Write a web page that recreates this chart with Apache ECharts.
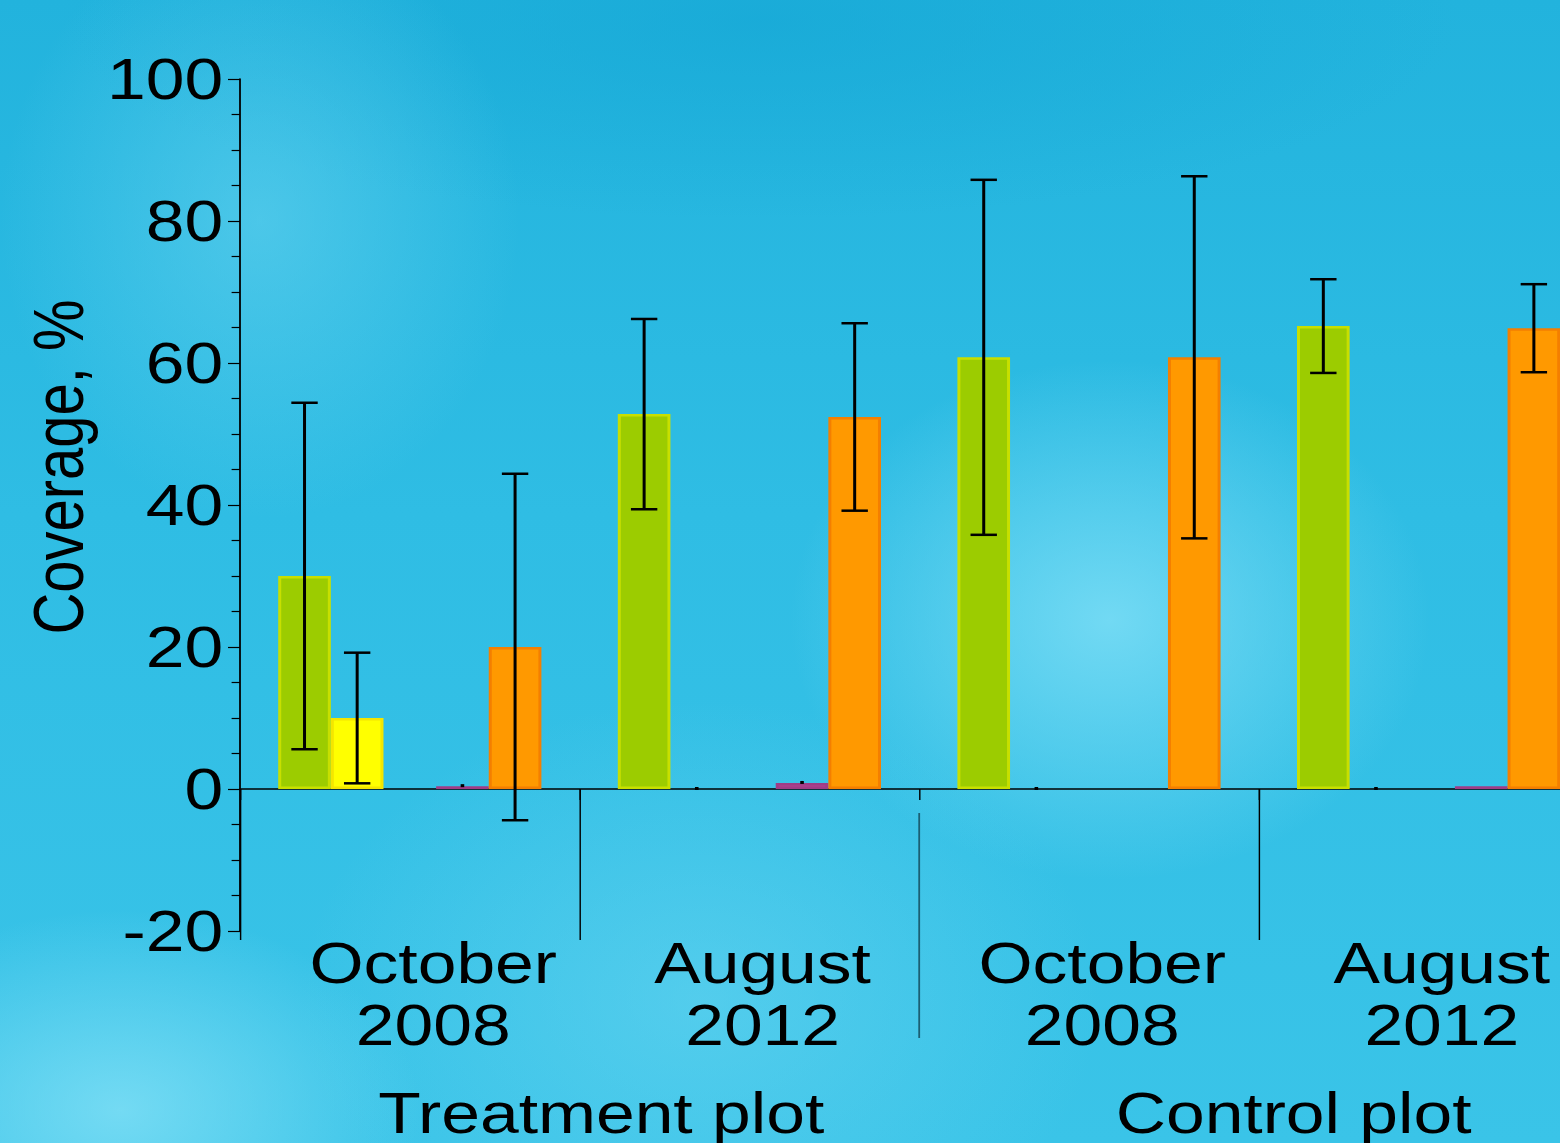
<!DOCTYPE html>
<html>
<head>
<meta charset="utf-8">
<script src="https://cdn.jsdelivr.net/npm/echarts@6/dist/echarts.min.js"></script>
<style>
  html, body {
    margin: 0;
    padding: 0;
    width: 1560px;
    height: 1143px;
    overflow: hidden;
    background:
      radial-gradient(ellipse 320px 260px at 1110px 620px, rgba(125, 222, 246, 0.85), rgba(125, 222, 246, 0)),
      radial-gradient(ellipse 300px 200px at 120px 1110px, rgba(135, 226, 247, 0.75), rgba(135, 226, 247, 0)),
      radial-gradient(ellipse 260px 300px at 260px 220px, rgba(105, 212, 240, 0.55), rgba(105, 212, 240, 0)),
      radial-gradient(ellipse 700px 200px at 760px 20px, rgba(22, 168, 214, 0.7), rgba(22, 168, 214, 0)),
      radial-gradient(ellipse 400px 300px at 700px 1000px, rgba(110, 215, 242, 0.5), rgba(110, 215, 242, 0)),
      linear-gradient(180deg, #22b3dd 0%, #2fbde4 45%, #3ac4e8 100%);
  }
  /* the original figure is stretched sideways, so the chart is drawn narrower and scaled */
  #chart {
    width: 1300px;
    height: 1143px;
    transform: scaleX(1.2);
    transform-origin: 0 0;
  }
</style>
</head>
<body>
<div id="chart"></div>
<script>
  // sampling dates (first-level x categories) and plots (second level)
  const dates = ['October\n2008', 'August\n2012', 'October\n2008', 'August\n2012'];
  const plots = ['Treatment plot', 'Control plot'];

  // mean coverage, % per bar slot in each group
  const greenMean = [30.0, 52.8, 60.8, 65.2];
  const yellowMean = [10.0, 0, 0, 0];
  const emptyMean = [0, 0, 0, 0];
  const purpleMean = [0.4, 0.85, 0, 0.4];
  const orangeMean = [20.0, 52.4, 60.8, 64.9];

  // error (+/-) for each bar
  const greenErr = [24.4, 13.4, 25.0, 6.6];
  const yellowErr = [9.2, 0, 0, 0];
  const purpleErr = [0, 0, null, null];
  const orangeErr = [24.4, 13.2, 25.5, 6.2];

  const yTicks = [-20, 0, 20, 40, 60, 80, 100];

  const FONT = 'Liberation Sans, Arial, sans-serif';
  const GAP = 0.225;    // barCategoryGap
  const SLOTS = 5;

  let chart = echarts.init(document.getElementById('chart'), null, {renderer: 'svg'});

  function barSeries(name, values, fill, border) {
    return {
      name: name,
      type: 'bar',
      xAxisIndex: 0,
      barGap: '0%',
      barCategoryGap: (GAP * 100) + '%',
      // empty bars get no outline
      data: values.map(function (v) {
        return v === 0 ? {value: 0, itemStyle: {borderWidth: 0}} : v;
      }),
      itemStyle: {
        color: fill,
        borderColor: border,
        borderWidth: 2.5
      },
      silent: true
    };
  }

  function errSeries(slot, means, errs) {
    let data = [];
    means.forEach(function (m, i) {
      if (errs[i] !== null) data.push([i, m, errs[i]]);
    });
    return {
      type: 'custom',
      xAxisIndex: 0,
      silent: true,
      z: 5,
      data: data,
      renderItem: function (params, api) {
        let i = api.value(0), m = api.value(1), e = api.value(2);
        let band = api.size([1, 0])[0];
        let barW = band * (1 - GAP) / SLOTS;
        let p = api.coord([i, m]);
        let cx = p[0] + (slot - (SLOTS - 1) / 2) * barW;
        let st = {stroke: '#000', lineWidth: 2.5};
        if (!e) {
          return {type: 'rect', shape: {x: cx - 1.5, y: p[1] - 2, width: 3, height: 3}, style: {fill: '#000'}};
        }
        let top = api.coord([i, m + e])[1];
        let bot = api.coord([i, m - e])[1];
        let cap = 11;
        return {
          type: 'group',
          children: [
            {type: 'line', shape: {x1: cx, y1: top, x2: cx, y2: bot}, style: st},
            {type: 'line', shape: {x1: cx - cap, y1: top, x2: cx + cap, y2: top}, style: st},
            {type: 'line', shape: {x1: cx - cap, y1: bot, x2: cx + cap, y2: bot}, style: st}
          ]
        };
      }
    };
  }

  let labelText = {color: '#000', fontFamily: FONT, fontSize: 58, lineHeight: 62};

  let option = {
    animation: false,
    grid: {
      left: 200,
      right: -32,
      top: 79,
      bottom: 212,
      containLabel: false,
      outerBoundsMode: 'none'
    },
    xAxis: [
      {
        type: 'category',
        data: dates,
        axisLine: {onZero: true, lineStyle: {color: '#000', width: 1.5}},
        axisTick: {show: true, length: 11, lineStyle: {color: '#000', width: 1.2}},
        axisLabel: {
          interval: 0,
          margin: 1,
          color: '#000',
          fontFamily: FONT,
          fontSize: 58,
          lineHeight: 62,
          padding: [0, 0, 0, 22],
          // the first label sits a little further right in the original
          formatter: function (v, idx) {
            let parts = v.split('\n');
            let tag = idx === 0 ? 'r' : 'n';
            return parts.map(function (s) { return '{' + tag + '|' + s + '}'; }).join('\n');
          },
          rich: {
            n: labelText,
            r: Object.assign({}, labelText, {padding: [0, 0, 0, 17]})
          }
        },
        splitLine: {show: false}
      },
      {
        // long separators between the sampling dates
        type: 'value',
        min: 0,
        max: 4,
        position: 'bottom',
        offset: 9,
        axisLine: {show: false, onZero: false},
        axisTick: {show: true, inside: true, length: 151, customValues: [0, 1, 3], lineStyle: {color: '#000', width: 1.2}},
        axisLabel: {show: false},
        splitLine: {show: false}
      },
      {
        // second level: plots
        type: 'value',
        min: 0,
        max: 4,
        position: 'bottom',
        offset: 107,
        axisLine: {show: false, onZero: false},
        axisTick: {show: true, inside: true, length: 225, customValues: [2], lineStyle: {color: '#1b5f73', width: 1.5}},
        axisLabel: {
          customValues: [1, 3],
          formatter: function (v) {
            let k = (v - 1) / 2;
            return '{' + (k === 0 ? 'n' : 'r') + '|' + plots[k] + '}';
          },
          margin: 44,
          padding: [0, 0, 0, 36],
          rich: {
            n: labelText,
            r: Object.assign({}, labelText, {padding: [0, 0, 0, 22]})
          }
        },
        splitLine: {show: false}
      }
    ],
    yAxis: {
      type: 'value',
      min: yTicks[0],
      max: yTicks[yTicks.length - 1],
      interval: 20,
      name: 'Coverage, %',
      nameLocation: 'middle',
      nameGap: 118,
      nameTextStyle: {
        color: '#000',
        fontFamily: FONT,
        fontSize: 58,
        lineHeight: 58,
        padding: [0, 0, 0, 76]
      },
      axisLine: {show: true, lineStyle: {color: '#000', width: 1.5}},
      axisTick: {show: true, length: 10, lineStyle: {color: '#000', width: 1.2}},
      minorTick: {show: true, splitNumber: 4, length: 7, lineStyle: {color: '#000', width: 1.2}},
      axisLabel: {
        margin: 14,
        color: '#000',
        fontFamily: FONT,
        fontSize: 58
      },
      splitLine: {show: false}
    },
    series: [
      barSeries('green', greenMean, '#9ccc00', '#c8df00'),
      barSeries('yellow', yellowMean, '#ffff00', '#f4e600'),
      barSeries('empty', emptyMean, 'rgba(0,0,0,0)', 'rgba(0,0,0,0)'),
      barSeries('purple', purpleMean, '#b0428f', '#a03c86'),
      barSeries('orange', orangeMean, '#ff9900', '#f47f00'),
      errSeries(0, greenMean, greenErr),
      errSeries(1, yellowMean, yellowErr),
      errSeries(3, purpleMean, purpleErr),
      errSeries(4, orangeMean, orangeErr)
    ]
  };

  chart.setOption(option);
</script>
</body>
</html>
